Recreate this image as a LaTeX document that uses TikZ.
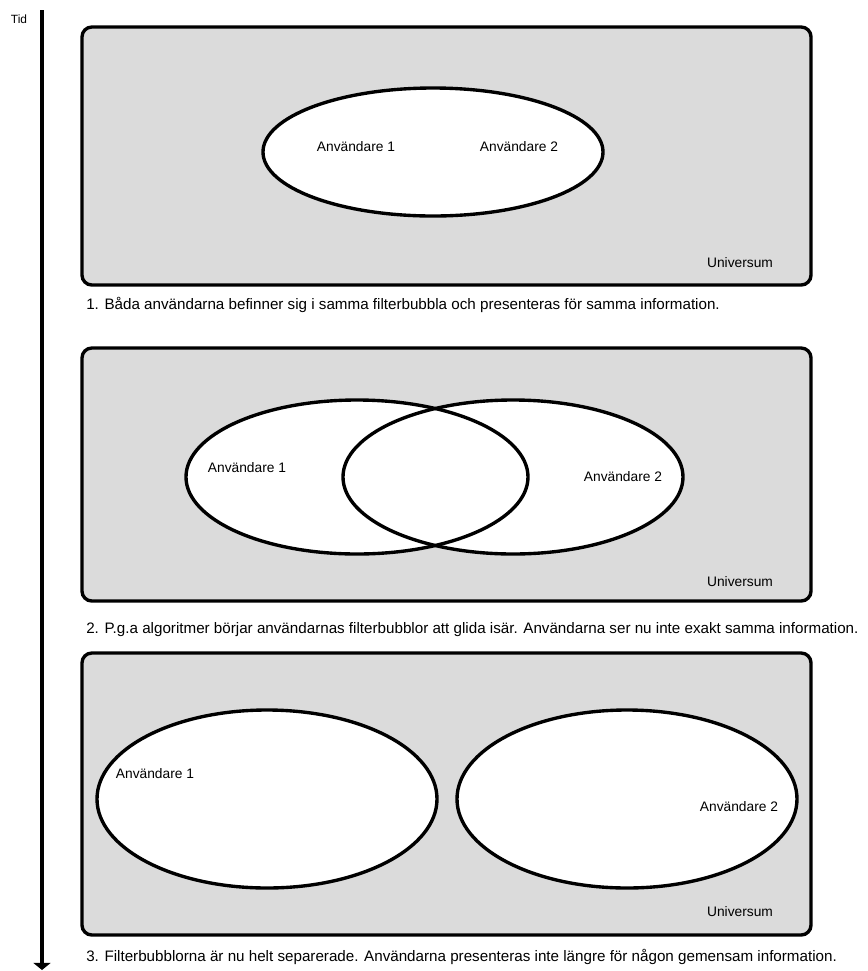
\documentclass[tikz,border=0pt]{standalone}
\usepackage{fontspec}
\setmainfont{Liberation Sans}
\usetikzlibrary{arrows.meta}
\tikzset{
  universe/.style={draw=black, fill=black!14, line width=2.4pt, rounded corners=7pt},
  bubble/.style={draw=black, line width=2.4pt},
  lbl/.style={font=\fontsize{9.8}{11}\selectfont, inner sep=0pt},
  caption/.style={font=\fontsize{10.8}{12}\selectfont, inner sep=0pt, anchor=west},
  timeline/.style={line width=2.4pt, -{Triangle[width=12pt,length=5pt]}}
}
\begin{document}
\begin{tikzpicture}[x=0.25mm, y=-0.25mm]
  \useasboundingbox (0,0) rectangle (868,971);
  % tidslinje
  \node[font=\fontsize{8.5}{9}\selectfont, inner sep=0pt] (tid) at (19,19) {Tid};
  \coordinate (t0) at (42,10);
  \coordinate (t1) at (42,970);
  \draw[timeline] (t0) -- (t1);

  % 1
  \draw[universe] (82,27) rectangle (811,285);
  \draw[bubble, fill=white] (433,152) ellipse [x radius=170, y radius=64];
  \node[lbl] (a1) at (356,147) {Användare 1};
  \node[lbl] (a2) at (519,147) {Användare 2};
  \node[lbl] (univ1) at (740,263) {Universum};
  \node[caption] (cap1) at (86,305) {1. Båda användarna befinner sig i samma filterbubbla och presenteras för samma information.};

  % 2
  \draw[universe] (82,348) rectangle (811,601);
  \fill[white] (357,477) ellipse [x radius=171, y radius=77];
  \fill[white] (513,477) ellipse [x radius=170, y radius=77];
  \draw[bubble] (357,477) ellipse [x radius=171, y radius=77];
  \draw[bubble] (513,477) ellipse [x radius=170, y radius=77];
  \node[lbl] (b1) at (247,468) {Användare 1};
  \node[lbl] (b2) at (623,477) {Användare 2};
  \node[lbl] (univ2) at (740,582) {Universum};
  \node[caption] (cap2) at (86,630) {2. P.g.a algoritmer börjar användarnas filterbubblor att glida isär. Användarna ser nu inte exakt samma information.};

  % 3
  \draw[universe] (82,653) rectangle (811,935);
  \draw[bubble, fill=white] (267,799) ellipse [x radius=170, y radius=89];
  \draw[bubble, fill=white] (627,799) ellipse [x radius=170, y radius=89];
  \node[lbl] (c1) at (155,774) {Användare 1};
  \node[lbl] (c2) at (739,807) {Användare 2};
  \node[lbl] (univ3) at (740,912) {Universum};
  \node[caption] (cap3) at (86,957) {3. Filterbubblorna är nu helt separerade. Användarna presenteras inte längre för någon gemensam information.};
\end{tikzpicture}
\end{document}
